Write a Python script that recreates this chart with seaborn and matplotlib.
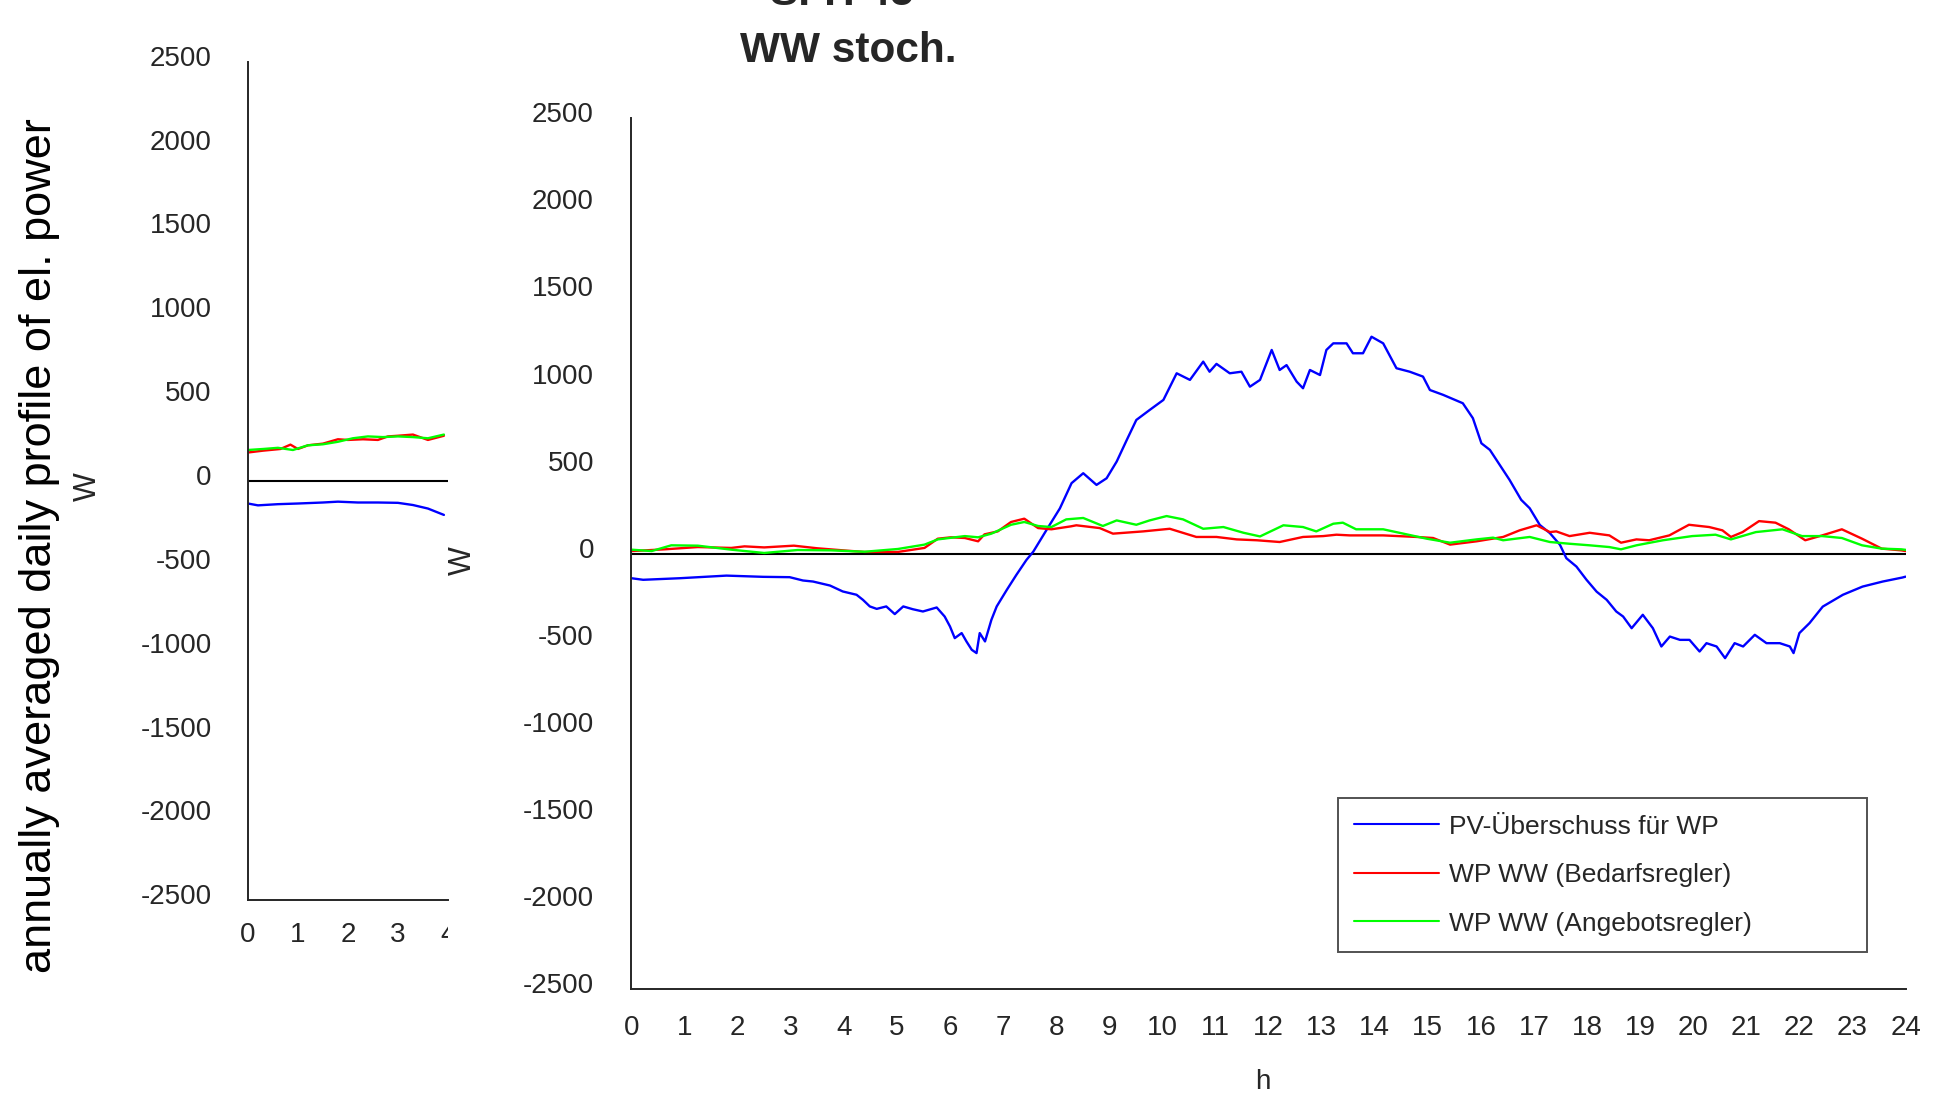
import pandas as pd
import matplotlib.pyplot as plt
from matplotlib.patches import Rectangle
from matplotlib.transforms import ScaledTranslation
import seaborn as sns

# main panel: hourly profile, values in W
pv_h = [0, 0.22, 0.91, 1.79, 2.48, 2.98, 3.23, 3.42, 3.74, 3.98, 4.24, 4.36, 4.49, 4.62, 4.80, 4.96,
        5.12, 5.30, 5.49, 5.75, 5.90, 6.00, 6.09, 6.22, 6.31, 6.41, 6.50, 6.56, 6.66, 6.78, 6.88, 7.07,
        7.25, 7.44, 7.57, 7.82, 8.07, 8.29, 8.51, 8.76, 8.95, 9.14, 9.33, 9.51, 9.76, 10.02, 10.27, 10.52,
        10.77, 10.89, 11.02, 11.27, 11.49, 11.65, 11.84, 12.06, 12.21, 12.34, 12.53, 12.65, 12.78, 12.97,
        13.09, 13.22, 13.47, 13.59, 13.78, 13.94, 14.16, 14.41, 14.66, 14.91, 15.04, 15.29, 15.66, 15.85,
        16.01, 16.17, 16.54, 16.76, 16.92, 17.11, 17.30, 17.49, 17.61, 17.80, 17.99, 18.18, 18.37, 18.55,
        18.68, 18.84, 19.05, 19.24, 19.40, 19.56, 19.75, 19.93, 20.12, 20.25, 20.44, 20.60, 20.78, 20.94,
        21.16, 21.38, 21.63, 21.82, 21.89, 22.00, 22.19, 22.44, 22.82, 23.19, 23.57, 23.94, 24.0]
pv_w = [-141, -150, -141, -126, -133, -135, -154, -160, -183, -217, -236, -265, -303, -317, -303, -347,
        -303, -319, -332, -309, -361, -418, -485, -456, -504, -552, -571, -456, -504, -380, -303, -208,
        -122, -36, 12, 137, 260, 405, 462, 395, 433, 529, 653, 768, 825, 883, 1036, 998,
        1103, 1045, 1090, 1036, 1045, 959, 998, 1170, 1055, 1083, 988, 950, 1055, 1026,
        1170, 1208, 1208, 1151, 1151, 1246, 1208, 1065, 1045, 1017, 940, 912, 864, 778,
        634, 596, 424, 309, 261, 165, 118, 51, -26, -74, -150, -218, -265, -332,
        -361, -428, -351, -428, -533, -476, -495, -495, -562, -514, -533, -600, -514, -533,
        -466, -514, -514, -533, -571, -456, -399, -304, -236, -189, -160, -137, -132]

bed_h = [0, 0.63, 1.25, 1.88, 2.13, 2.5, 3.06, 3.5, 4.07, 4.39, 5.02, 5.52, 5.77, 6.02, 6.28, 6.53,
         6.65, 6.9, 7.15, 7.4, 7.66, 7.91, 8.28, 8.38, 8.82, 9.07, 9.64, 10.14, 10.64, 11.02, 11.4, 11.78,
         12.21, 12.65, 13.03, 13.28, 13.53, 14.16, 14.79, 15.1, 15.42, 15.92, 16.42, 16.73, 17.05, 17.3,
         17.42, 17.67, 18.05, 18.42, 18.64, 18.93, 19.17, 19.55, 19.92, 20.3, 20.55, 20.71, 20.93, 21.24,
         21.55, 21.8, 22.11, 22.43, 22.8, 23.18, 23.55, 23.92, 24.0]
bed_w = [15, 25, 38, 33, 42, 36, 46, 31, 17, 10, 10, 33, 86, 94, 90, 71,
         111, 128, 182, 201, 147, 140, 157, 163, 147, 115, 128, 143, 96, 96, 82, 77,
         67, 96, 101, 109, 105, 105, 96, 90, 52, 71, 96, 134, 163, 124,
         128, 101, 120, 105, 63, 82, 77, 105, 166, 153, 134, 96, 124, 187,
         178, 140, 77, 105, 140, 86, 29, 19, 15]

ang_h = [0, 0.38, 0.75, 1.25, 1.88, 2.5, 3.13, 3.76, 4.39, 5.02, 5.52, 5.77, 6.28, 6.53, 6.78, 7.15,
         7.4, 7.66, 7.91, 8.19, 8.51, 8.88, 9.14, 9.51, 9.76, 10.08, 10.39, 10.77, 11.15, 11.53, 11.84,
         12.28, 12.65, 12.9, 13.22, 13.4, 13.65, 14.16, 14.54, 14.98, 15.42, 15.92, 16.23, 16.42, 16.92,
         17.3, 17.67, 18.05, 18.42, 18.64, 18.93, 19.43, 19.98, 20.42, 20.71, 21.18, 21.68, 22.05, 22.43,
         22.8, 23.18, 23.55, 23.92, 24.0]
ang_w = [23, 15, 48, 46, 23, 4, 21, 19, 11, 27, 52, 82, 101, 94, 115, 166,
         182, 159, 153, 197, 205, 159, 191, 166, 191, 216, 197, 143, 153, 120, 99,
         163, 153, 128, 172, 178, 140, 140, 115, 86, 63, 82, 92, 77, 96,
         67, 57, 48, 38, 25, 48, 77, 101, 109, 82, 124, 140, 101, 101,
         90, 48, 29, 25, 22]

# small left panel (0-4 h)
pv_left_h = [0, 0.2, 0.6, 1.0, 1.5, 1.8, 2.2, 2.6, 3.0, 3.3, 3.6, 3.92]
pv_left_w = [-134, -145, -138, -134, -128, -123, -128, -128, -130, -143, -164, -202]
bed_left_h = [0, 0.3, 0.65, 0.85, 1.0, 1.2, 1.5, 1.8, 2.0, 2.3, 2.6, 2.8, 3.0, 3.3, 3.6, 3.92]
bed_left_w = [170, 181, 191, 217, 191, 213, 223, 249, 245, 249, 245, 266, 270, 277, 245, 270]
ang_left_h = [0, 0.3, 0.6, 0.9, 1.2, 1.5, 1.8, 2.1, 2.4, 2.7, 3.0, 3.3, 3.6, 3.92]
ang_left_w = [185, 191, 198, 185, 213, 219, 234, 255, 266, 262, 266, 262, 255, 277]

labels = ['PV-Überschuss für WP', 'WP WW (Bedarfsregler)', 'WP WW (Angebotsregler)']
colors = ['#0000ff', '#ff0000', '#00ff00']
yticks = list(range(-2500, 2501, 500))

sns.set_style('white')
plt.rcParams['font.family'] = ['Liberation Sans', 'DejaVu Sans']
plt.rcParams['axes.unicode_minus'] = False
dark = '#262626'

fig = plt.figure(figsize=(19.34, 10.94), dpi=100)
ax_l = fig.add_axes([0.1282, 0.1770, 0.1034, 0.7666])
ax = fig.add_axes([0.3265, 0.0960, 0.6588, 0.7958])
ax.set_zorder(2)

main = [(pv_h, pv_w), (bed_h, bed_w), (ang_h, ang_w)]
left = [(pv_left_h, pv_left_w), (bed_left_h, bed_left_w), (ang_left_h, ang_left_w)]

for (h, w), lab, c in zip(main, labels, colors):
    df = pd.DataFrame({'h': h, 'W': w})
    sns.lineplot(data=df, x='h', y='W', color=c, linewidth=1.7, label=lab, ax=ax, estimator=None)
for (h, w), c in zip(left, colors):
    df = pd.DataFrame({'h': h, 'W': w})
    sns.lineplot(data=df, x='h', y='W', color=c, linewidth=1.7, ax=ax_l, estimator=None, legend=False)

for a in (ax, ax_l):
    a.axhline(0, color='black', linewidth=1.5, zorder=1)
    a.set_ylim(-2500, 2500)
    a.set_yticks(yticks)
    for s in ('top', 'right'):
        a.spines[s].set_visible(False)
    for s in ('left', 'bottom'):
        a.spines[s].set_color(dark)
        a.spines[s].set_linewidth(1.4)
    a.tick_params(direction='in', length=9, width=1.2, colors=dark, labelsize=20, labelcolor=dark)
    a.set_xlabel('')
    a.set_ylabel('')

ax.set_xlim(0, 24)
ax.set_xticks(range(0, 25))
ax.tick_params(axis='y', pad=27)
ax.tick_params(axis='x', pad=19)
ax_l.set_xlim(0, 3.92)
ax_l.set_xticks(range(0, 5))
ax_l.tick_params(axis='y', pad=26)
ax_l.tick_params(axis='x', pad=15.5)

# y tick labels sit a little above their ticks in the original
shift = ScaledTranslation(0, 6 / 100, fig.dpi_scale_trans)
for a in (ax, ax_l):
    for lbl in a.get_yticklabels():
        lbl.set_transform(lbl.get_transform() + shift)

leg = ax.legend(loc='lower left', bbox_to_anchor=(0.5545, 0.0425, 0.4152, 0.178), mode='expand',
                fontsize=19, frameon=True, fancybox=False, handlelength=3.2, handletextpad=0.4,
                labelspacing=0.93, borderpad=0.62, borderaxespad=0)
leg.get_frame().set_edgecolor(dark)
leg.get_frame().set_linewidth(1.4)
for line in leg.get_lines():
    line.set_linewidth(1.5)

# hide the cut-off part of the small panel's last tick label
fig.add_artist(Rectangle((0.2316, 0.1225), 0.0103, 0.05, transform=fig.transFigure,
                         facecolor='white', edgecolor='none', zorder=5))

fig.text(0.0205, 0.5009, 'annually averaged daily profile of el. power', rotation=90,
         ha='center', va='center', fontsize=32.5, color='black')
fig.text(88 / 1934, 1 - 487 / 1094, 'W', rotation=90, ha='center', va='center', fontsize=22, color=dark)
fig.text(463 / 1934, 1 - 561 / 1094, 'W', rotation=90, ha='center', va='center', fontsize=22, color=dark)
fig.text(1263 / 1934, 1 - 1082 / 1094, 'h', ha='center', va='center', fontsize=20, color=dark)
fig.text(0.4385, 0.9433, 'WW stoch.', ha='center', va='baseline', fontsize=30.5, fontweight='bold')
fig.text(842 / 1934, 0.995, 'SFH 45', ha='center', va='baseline', fontsize=30.5, fontweight='bold')

fig.savefig('out.png', dpi=100)
